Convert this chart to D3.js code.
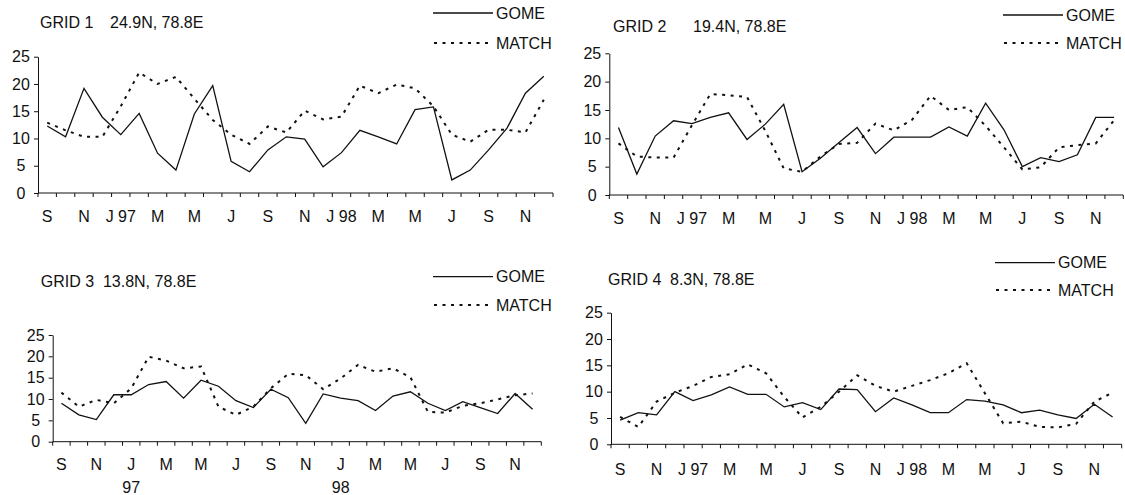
<!DOCTYPE html>
<html>
<head>
<meta charset="utf-8">
<script src="https://cdn.jsdelivr.net/npm/d3@7"></script>
<style>
  body { margin: 0; background: #fff; }
  svg { display: block; }
  text { font-family: "Liberation Sans", Arial, sans-serif; font-size: 16px; fill: #111; white-space: pre; }
</style>
</head>
<body>
<svg id="chart" width="1125" height="495"></svg>
<script>
// Monthly series, Sep 1996 .. Dec 1998
const months = ["1996-09","1996-10","1996-11","1996-12",
  "1997-01","1997-02","1997-03","1997-04","1997-05","1997-06","1997-07","1997-08","1997-09","1997-10","1997-11","1997-12",
  "1998-01","1998-02","1998-03","1998-04","1998-05","1998-06","1998-07","1998-08","1998-09","1998-10","1998-11","1998-12"];

// Labels shown on every other month
const monthLabels = ["S","N","J 97","M","M","J","S","N","J 98","M","M","J","S","N"];
const monthLabelsShort = ["S","N","J","M","M","J","S","N","J","M","M","J","S","N"];
const yearLabels = ["","","97","","","","","","98","","","","",""];
const yTicks = [0, 5, 10, 15, 20, 25];

const gridNames = ["GRID 1", "GRID 2", "GRID 3", "GRID 4"];
const gridCoords = ["24.9N, 78.8E", "19.4N, 78.8E", "13.8N, 78.8E", "8.3N, 78.8E"];
const seriesNames = ["GOME", "MATCH"];

const gome1  = [12.3, 10.3, 19.2, 13.9, 10.7, 14.6, 7.3, 4.2, 14.5, 19.7, 5.8, 3.9, 7.9, 10.3, 9.9, 4.8, 7.4, 11.5, 10.3, 9.0, 15.3, 15.8, 2.4, 4.2, 7.9, 11.9, 18.3, 21.4];
const match1 = [12.9, 11.5, 10.3, 10.3, 15.9, 22.1, 20.0, 21.3, 17.3, 13.4, 10.7, 9.0, 12.2, 11.1, 15.1, 13.5, 14.0, 19.7, 18.3, 19.9, 19.2, 15.9, 10.7, 9.4, 11.6, 11.6, 11.1, 17.1];

const gome2  = [11.9, 3.7, 10.4, 13.1, 12.6, 13.7, 14.5, 9.8, 12.5, 16.0, 4.1, 6.5, 9.2, 11.9, 7.3, 10.2, 10.2, 10.2, 12.0, 10.4, 16.2, 11.5, 5.0, 6.6, 5.9, 7.1, 13.7, 13.7];
const match2 = [9.1, 6.8, 6.6, 6.6, 12.3, 17.8, 17.6, 17.3, 11.3, 4.7, 4.1, 6.8, 9.0, 9.2, 12.6, 11.4, 13.3, 17.5, 15.0, 15.5, 12.2, 8.4, 4.5, 4.9, 8.4, 8.8, 9.1, 13.2];

const gome3  = [9.0, 6.3, 5.2, 11.0, 11.0, 13.4, 14.1, 10.2, 14.4, 13.0, 9.6, 8.0, 12.3, 10.3, 4.3, 11.2, 10.2, 9.6, 7.3, 10.7, 11.7, 9.0, 7.3, 9.4, 8.0, 6.6, 11.3, 7.6];
const match3 = [11.5, 8.2, 9.8, 9.0, 12.5, 19.9, 19.0, 17.2, 17.6, 8.2, 6.3, 8.2, 12.5, 15.9, 15.6, 12.3, 14.8, 18.0, 16.4, 17.2, 15.1, 7.0, 6.8, 8.4, 9.0, 9.9, 10.9, 11.3];

const gome4  = [4.6, 6.0, 5.6, 10.0, 8.3, 9.4, 10.9, 9.5, 9.5, 7.1, 7.9, 6.6, 10.5, 10.4, 6.2, 8.8, 7.5, 6.0, 6.0, 8.5, 8.2, 7.5, 6.0, 6.5, 5.6, 4.9, 7.6, 5.2];
const match4 = [5.2, 3.3, 8.1, 9.8, 11.1, 12.8, 13.3, 15.2, 13.5, 9.0, 5.1, 7.1, 10.0, 13.1, 11.1, 10.0, 11.1, 12.2, 13.5, 15.4, 9.7, 4.0, 4.3, 3.3, 3.2, 3.9, 8.1, 9.8];

// Panel placement (plot area edges, title and legend anchors)
const panels = [
  { gome: gome1, match: match1, x0: 38,    x1: 553,    yTop: 56.7,  yBot: 193,
    title: [40, 28.3], coordX: 110, legend: [433, 13, 43], lab: monthLabels, labOff: 18 },
  { gome: gome2, match: match2, x0: 609.3, x1: 1123.3, yTop: 53.3,  yBot: 195,
    title: [613, 31.7], coordX: 693, legend: [1003, 15, 43], lab: monthLabels, labOff: 18 },
  { gome: gome3, match: match3, x0: 52.7,  x1: 541.3,  yTop: 335,   yBot: 441.7,
    title: [40.7, 286.7], coordX: null, legend: [433, 276.7, 305], lab: monthLabelsShort, labOff: 16.5, years: yearLabels },
  { gome: gome4, match: match4, x0: 611,   x1: 1121.7, yTop: 312.7, yBot: 444.3,
    title: [608, 285], coordX: 670, legend: [995, 262.7, 290], lab: monthLabels, labOff: 19 }
];

const svg = d3.select("#chart");
const INK = "#111";
const matchDash = "3,5.5";

panels.forEach((p, k) => {
  const g = svg.append("g");
  const x = d3.scaleBand().domain(months).range([p.x0, p.x1]).padding(0);
  const y = d3.scaleLinear().domain([0, 25]).range([p.yBot, p.yTop]);
  const cx = d => x(d) + x.bandwidth() / 2;

  // Y axis, tick labels centred in the gutter
  const ya = g.append("g").attr("transform", `translate(${p.x0},0)`)
    .call(d3.axisLeft(y).tickValues(yTicks).tickSize(4).tickSizeOuter(0));
  ya.select(".domain").attr("stroke", INK);
  ya.selectAll(".tick line").attr("stroke", INK);
  ya.selectAll(".tick text").attr("font-size", 16).attr("font-family", null).attr("fill", INK)
    .attr("text-anchor", "middle").attr("x", -17);

  // X axis: line, boundary ticks, labels on alternate months
  const xa = g.append("g").attr("transform", `translate(0,${p.yBot})`);
  xa.append("line").attr("x1", p.x0).attr("x2", p.x1).attr("stroke", INK);
  const bounds = months.map(m => x(m)).concat([p.x1]);
  xa.selectAll("line.tk").data(bounds).join("line").attr("class", "tk")
    .attr("x1", d => d).attr("x2", d => d).attr("y1", 0).attr("y2", 4).attr("stroke", INK);

  const shown = months.filter((m, i) => i % 2 === 0);
  const labAxis = g.append("g").attr("transform", `translate(0,${p.yBot})`)
    .call(d3.axisBottom(x).tickValues(shown).tickSize(0).tickPadding(p.labOff)
      .tickFormat((d, i) => p.lab[i]));
  labAxis.select(".domain").remove();
  labAxis.selectAll(".tick text").attr("font-size", 16).attr("font-family", null).attr("fill", INK);

  if (p.years) {
    const yrAxis = g.append("g").attr("transform", `translate(0,${p.yBot + 23.5})`)
      .call(d3.axisBottom(x).tickValues(shown).tickSize(0).tickPadding(p.labOff)
        .tickFormat((d, i) => p.years[i]));
    yrAxis.select(".domain").remove();
    yrAxis.selectAll(".tick text").attr("font-size", 16).attr("font-family", null).attr("fill", INK);
  }

  // Series lines
  const line = vals => d3.line().x((d, i) => cx(months[i])).y(d => y(d))(vals);
  g.append("path").attr("d", line(p.match)).attr("fill", "none")
    .attr("stroke", INK).attr("stroke-width", 2).attr("stroke-dasharray", matchDash);
  g.append("path").attr("d", line(p.gome)).attr("fill", "none")
    .attr("stroke", INK).attr("stroke-width", 1.3).attr("stroke-linejoin", "miter");

  // Title
  if (p.coordX === null) {
    g.append("text").attr("x", p.title[0]).attr("y", p.title[1]).text(gridNames[k] + "  " + gridCoords[k]);
  } else {
    g.append("text").attr("x", p.title[0]).attr("y", p.title[1]).text(gridNames[k]);
    g.append("text").attr("x", p.coordX).attr("y", p.title[1]).text(gridCoords[k]);
  }

  // Legend
  const [lx, ly1, ly2] = p.legend;
  const lg = g.append("g");
  lg.append("line").attr("x1", lx).attr("x2", lx + 60).attr("y1", ly1).attr("y2", ly1)
    .attr("stroke", INK).attr("stroke-width", 1.3);
  lg.append("text").attr("x", lx + 63).attr("y", ly1).attr("dy", "0.35em").text(seriesNames[0]);
  lg.append("line").attr("x1", lx + 1).attr("x2", lx + 58).attr("y1", ly2).attr("y2", ly2)
    .attr("stroke", INK).attr("stroke-width", 2).attr("stroke-dasharray", matchDash);
  lg.append("text").attr("x", lx + 63).attr("y", ly2).attr("dy", "0.35em").text(seriesNames[1]);
});
</script>
</body>
</html>
